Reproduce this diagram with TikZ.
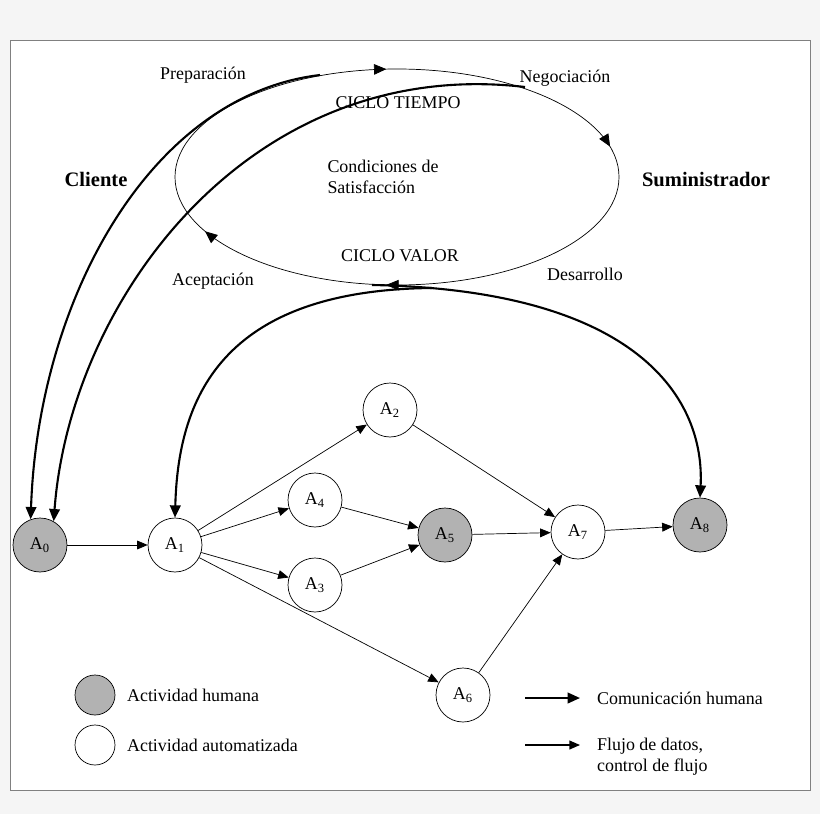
\documentclass[tikz,border=0pt]{standalone}
\usepackage{fontspec}
\setmainfont{Liberation Serif}
\usetikzlibrary{arrows.meta,decorations.markings}
\begin{document}
\begin{tikzpicture}[x=0.02cm,y=-0.02cm,font=\fontsize{10.2}{12}\selectfont]
    \tikzset{act/.style = {shape=circle, draw, fill=white, minimum size=1.08cm, inner sep=0pt}}
    \tikzset{human/.style = {act, fill=black!30}}
    \tikzset{flow/.style = {draw, -{Triangle[length=6pt,width=5pt]}}}
    \tikzset{talk/.style = {draw, very thick, -{Triangle[length=7pt,width=6pt]}}}
    \tikzset{lbl/.style = {inner sep=1pt}}

    \useasboundingbox (0,0) rectangle (820,814);
    \fill[black!4] (0,0) rectangle (820,814);
    \draw[fill=white, draw=black!50] (10,40) rectangle (810,790);

    % ellipse
    \draw[fill=white, postaction={decorate}, decoration={markings,
        mark=at position 0.26 with {\arrow{Triangle[length=7pt,width=6pt]}},
        mark=at position 0.44 with {\arrow{Triangle[length=7pt,width=6pt]}},
        mark=at position 0.74 with {\arrow{Triangle[length=7pt,width=6pt]}},
        mark=at position 0.97 with {\arrow{Triangle[length=7pt,width=6pt]}}}]
        (619,177) arc[start angle=360, end angle=0, x radius=222, y radius=-108];
    \node[lbl] (ct) at (398,103) {CICLO TIEMPO};
    \node[lbl, align=left] (cs) at (383,177) {Condiciones de\\Satisfacción};
    \node[lbl] (cv) at (400,256) {CICLO VALOR};
    \node[lbl] (prep) at (203,75) {Preparación};
    \node[lbl] (nego) at (565,78) {Negociación};
    \node[lbl] (acep) at (213,281) {Aceptación};
    \node[lbl] (desa) at (585,274) {Desarrollo};
    \node[lbl, font=\fontsize{11.7}{14}\bfseries] (cli) at (96,179) {Cliente};
    \node[lbl, font=\fontsize{11.7}{14}\bfseries] (sum) at (706,179) {Suministrador};

    % activities
    \node[human] (a0) at (40,545) {A\textsubscript{0}};
    \node[act] (a1) at (175,545) {A\textsubscript{1}};
    \node[act] (a2) at (390,410) {A\textsubscript{2}};
    \node[act] (a4) at (315,500) {A\textsubscript{4}};
    \node[act] (a3) at (315,585) {A\textsubscript{3}};
    \node[human] (a5) at (445,535) {A\textsubscript{5}};
    \node[act] (a7) at (578,532) {A\textsubscript{7}};
    \node[human] (a8) at (700,525) {A\textsubscript{8}};
    \node[act] (a6) at (463,695) {A\textsubscript{6}};

    % communication
    \coordinate (e1) at (320,75);
    \coordinate (e2) at (525,87);
    \coordinate (e3) at (432,288);
    \coordinate (e4) at (372,285);
    \draw[talk] (e1) .. controls (150,95) and (38,300) .. (a0.110);
    \draw[talk] (e2) .. controls (250,55) and (70,300) .. (a0.60);
    \draw[talk] (e3) .. controls (220,290) and (178,400) .. (a1.north);
    \draw[talk] (e4) .. controls (640,290) and (705,400) .. (a8.north);

    % data flow
    \draw[flow] (a0) -- (a1);
    \draw[flow] (a1) -- (a2);
    \draw[flow] (a1) -- (a4);
    \draw[flow] (a1) -- (a3);
    \draw[flow] (a1) -- (a6);
    \draw[flow] (a4) -- (a5);
    \draw[flow] (a3) -- (a5);
    \draw[flow] (a2) -- (a7);
    \draw[flow] (a5) -- (a7);
    \draw[flow] (a6) -- (a7);
    \draw[flow] (a7) -- (a8);

    % legend
    \node[human, minimum size=0.8cm] (lh) at (95,695) {};
    \node[act, minimum size=0.8cm] (la) at (95,745) {};
    \node[lbl, anchor=west] (lht) at (125,695) {Actividad humana};
    \node[lbl, anchor=west] (lat) at (125,745) {Actividad automatizada};
    \coordinate (c1) at (525,698);
    \coordinate (c2) at (580,698);
    \coordinate (f1) at (525,745);
    \coordinate (f2) at (580,745);
    \draw[talk] (c1) -- (c2);
    \draw[flow, thick] (f1) -- (f2);
    \node[lbl, anchor=west] (lct) at (595,698) {Comunicación humana};
    \node[lbl, anchor=west, align=left] (lft) at (595,757) {Flujo de datos,\\control de flujo};
\end{tikzpicture}
\end{document}
